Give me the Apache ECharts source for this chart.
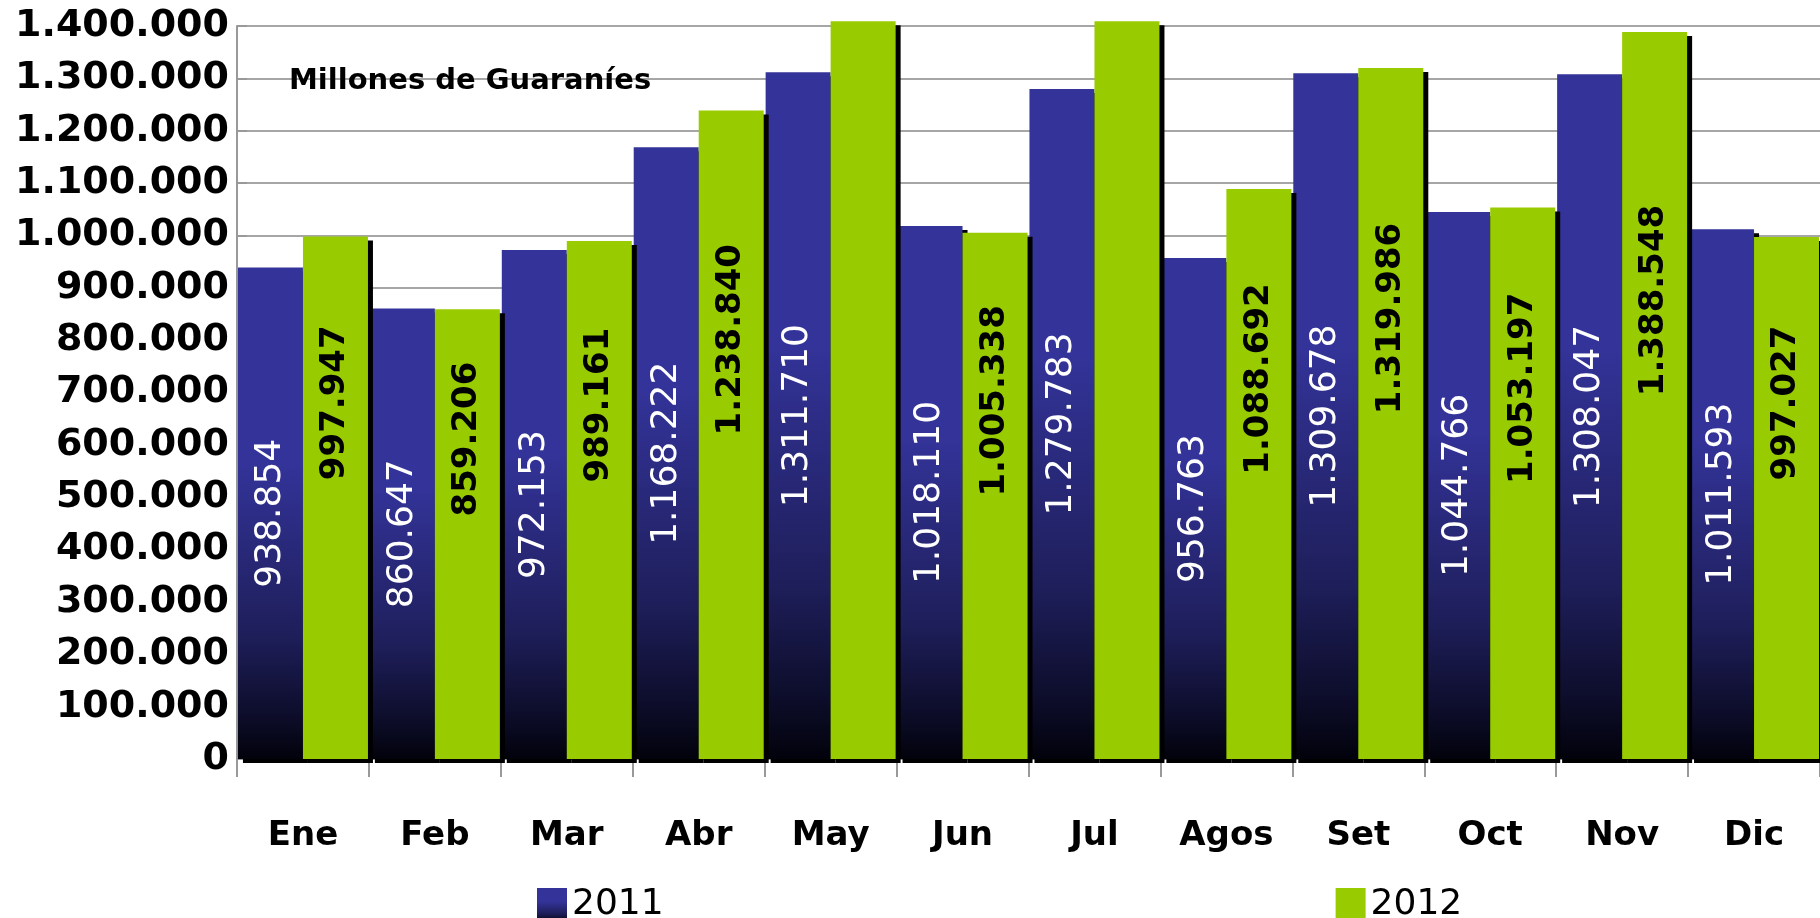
<!DOCTYPE html>
<html>
<head>
<meta charset="utf-8">
<title>Millones de Guaraníes</title>
<script src="https://cdn.jsdelivr.net/npm/echarts@6/dist/echarts.min.js"></script>
<style>
  html, body { margin: 0; padding: 0; background: #fff; }
  #chart { width: 1820px; height: 918px; }
</style>
</head>
<body>
<div id="chart"></div>
<script>
  // datos
  var months = ['Ene', 'Feb', 'Mar', 'Abr', 'May', 'Jun', 'Jul', 'Agos', 'Set', 'Oct', 'Nov', 'Dic'];
  var values2011 = [938854, 860647, 972153, 1168222, 1311710, 1018110, 1279783, 956763, 1309678, 1044766, 1308047, 1011593];
  // May y Jul 2012 salen del grafico, sin etiqueta: valores estimados
  var values2012 = [997947, 859206, 989161, 1238840, 1409000, 1005338, 1409000, 1088692, 1319986, 1053197, 1388548, 997027];
  var seriesNames = ['2011', '2012'];
  var yMax = 1400000;
  var yStep = 100000;

  var font = 'DejaVu Sans';

  function miles(v) {
    return String(v).replace(/\B(?=(\d{3})+(?!\d))/g, '.');
  }

  var blueGrad = new echarts.graphic.LinearGradient(0, 0, 0, 1, [
    {offset: 0, color: '#333399'},
    {offset: 0.4, color: '#333399'},
    {offset: 0.75, color: '#1e1e5a'},
    {offset: 0.92, color: '#0c0c28'},
    {offset: 1, color: '#02020c'}
  ]);

  var shadow = {shadowColor: '#000', shadowBlur: 0, shadowOffsetX: 5, shadowOffsetY: 4};

  // las barras que pasan el maximo no llevan etiqueta
  function items(arr) {
    return arr.map(function (v) {
      return v > yMax ? {value: v, label: {show: false}} : v;
    });
  }

  var myChart = echarts.init(document.getElementById('chart'));

  var option = {
    animation: false,
    title: {
      text: 'Millones de Guaraníes',
      left: 284,
      top: 62,
      textStyle: {fontFamily: font, fontSize: 29, fontWeight: 'bold', color: '#000'}
    },
    legend: {
      data: seriesNames,
      left: 532,
      top: 882,
      itemWidth: 30,
      itemHeight: 34,
      itemGap: 672,
      icon: 'rect',
      textStyle: {fontFamily: font, fontSize: 36, color: '#000'}
    },
    grid: {
      left: 237,
      right: -5,
      top: 26,
      bottom: 159,
      containLabel: false
    },
    xAxis: {
      type: 'category',
      data: months,
      axisLine: {lineStyle: {color: '#999', width: 2}},
      axisTick: {show: true, length: 18, lineStyle: {color: '#999', width: 2}},
      axisLabel: {
        margin: 60,
        fontFamily: font,
        fontSize: 34,
        fontWeight: 'bold',
        color: '#000'
      }
    },
    yAxis: {
      type: 'value',
      min: 0,
      max: yMax,
      interval: yStep,
      axisLine: {show: true, lineStyle: {color: '#999', width: 2}},
      axisTick: {show: true, inside: true, length: 10, lineStyle: {color: '#999', width: 2}},
      splitLine: {lineStyle: {color: '#a6a6a6', width: 2}},
      axisLabel: {
        margin: 8,
        fontFamily: font,
        fontSize: 38,
        fontWeight: 'bold',
        color: '#000',
        formatter: miles
      }
    },
    series: [
      {
        name: seriesNames[0],
        type: 'bar',
        data: items(values2011),
        barWidth: 65,
        barGap: '0%',
        itemStyle: Object.assign({color: blueGrad}, shadow),
        label: {
          show: true,
          position: 'inside',
          rotate: 90,
          fontFamily: font,
          fontSize: 36,
          color: '#fff',
          formatter: function (p) { return miles(p.value); }
        }
      },
      {
        name: seriesNames[1],
        type: 'bar',
        data: items(values2012),
        barWidth: 65,
        clip: false,
        itemStyle: Object.assign({color: '#99cc00'}, shadow),
        label: {
          show: true,
          position: 'inside',
          rotate: 90,
          // el desplazamiento va en coordenadas del texto girado
          offset: [95, 0],
          fontFamily: font,
          fontSize: 34,
          fontWeight: 'bold',
          color: '#000',
          formatter: function (p) { return miles(p.value); }
        }
      }
    ]
  };

  myChart.setOption(option);
</script>
</body>
</html>
